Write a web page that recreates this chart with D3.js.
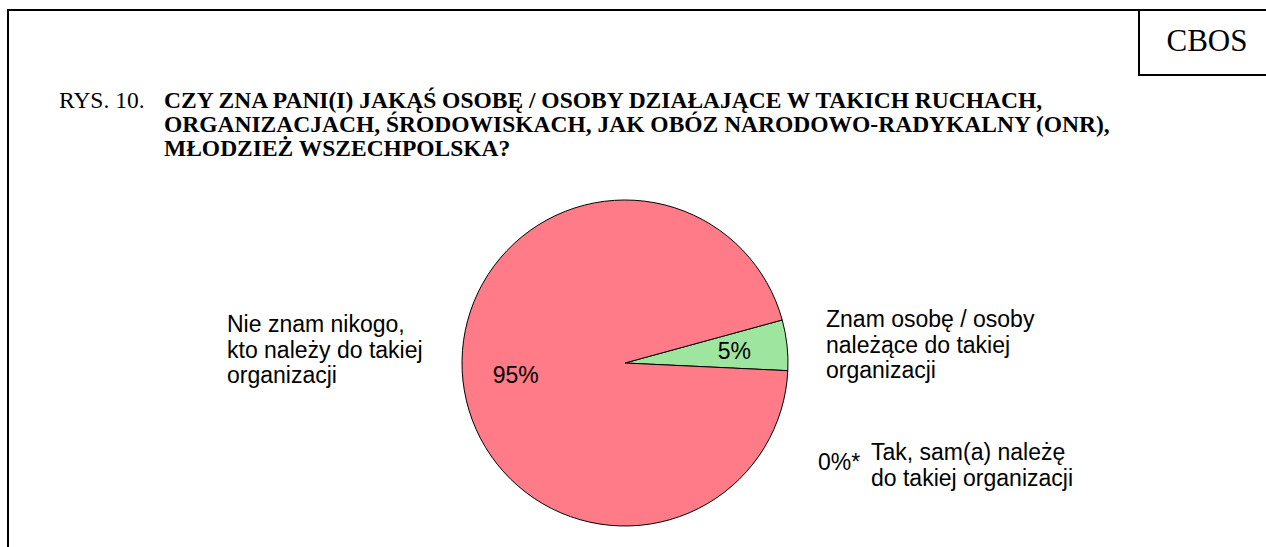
<!DOCTYPE html>
<html lang="pl">
<head>
  <meta charset="UTF-8">
  <title>CBOS Rys. 10</title>
  <script src="https://d3js.org/d3.v7.min.js"></script>
  <style>
    body { margin: 0; background: #fff; }
    .title { font-family: "Liberation Serif", "Times New Roman", serif; font-size: 23.5px; }
    .lbl { font-family: "Liberation Sans", Arial, sans-serif; font-size: 23px; fill: #000; }
  </style>
</head>
<body>
  <svg id="chart" width="1266" height="547"></svg>

  <script>
    // Answers (same order as the slices go round the pie)
    const categories = [
      "Znam osobę / osoby należące do takiej organizacji",
      "Tak, sam(a) należę do takiej organizacji",
      "Nie znam nikogo, kto należy do takiej organizacji"
    ];
    const values = [5, 0, 95];
    const valueLabels = ["5%", "0%*", "95%"];
    const colors = ["#9ee6a0", "#9ee6a0", "#ff7b88"];

    // Outside labels, broken into lines
    const labelLines = [
      ["Znam osobę / osoby", "należące do takiej", "organizacji"],
      ["Tak, sam(a) należę", "do takiej organizacji"],
      ["Nie znam nikogo,", "kto należy do takiej", "organizacji"]
    ];

    const titleNo = "RYS. 10.";
    const titleLines = [
      "CZY ZNA PANI(I) JAKĄŚ OSOBĘ / OSOBY DZIAŁAJĄCE W TAKICH RUCHACH,",
      "ORGANIZACJACH, ŚRODOWISKACH, JAK OBÓZ NARODOWO-RADYKALNY (ONR),",
      "MŁODZIEŻ WSZECHPOLSKA?"
    ];

    const svg = d3.select("#chart");

    // Frame and CBOS box
    svg.append("path")
      .attr("d", "M8,560 L8,10 L1280,10")
      .attr("fill", "none").attr("stroke", "#000").attr("stroke-width", 2);
    svg.append("rect")
      .attr("x", 1139).attr("y", 10).attr("width", 200).attr("height", 65)
      .attr("fill", "none").attr("stroke", "#000").attr("stroke-width", 2);
    svg.append("text")
      .attr("x", 1207).attr("y", 51).attr("text-anchor", "middle")
      .style("font-family", "Liberation Serif, serif").style("font-size", "31px")
      .text("CBOS");

    // Title
    svg.append("text").attr("class", "title")
      .attr("x", 59).attr("y", 108).text(titleNo);
    svg.append("g").selectAll("text")
      .data(titleLines).join("text")
      .attr("class", "title")
      .attr("font-weight", "bold")
      .attr("x", 164)
      .attr("y", (d, i) => 108 + i * 24)
      .text(d => d);

    // Pie
    const cx = 625, cy = 363, r = 163;
    const start = 74.7 * Math.PI / 180;
    const pie = d3.pie().sort(null).value(d => d)
      .startAngle(start).endAngle(start + 2 * Math.PI);
    const arcs = pie(values);
    const arc = d3.arc().innerRadius(0).outerRadius(r);
    const labelArc = d3.arc().innerRadius(110).outerRadius(110);

    const g = svg.append("g").attr("transform", `translate(${cx},${cy})`);
    g.selectAll("path")
      .data(arcs.filter(a => a.value > 0)).join("path")
      .attr("d", arc)
      .attr("fill", d => colors[d.index])
      .attr("stroke", "#000").attr("stroke-width", 1);

    // Percent labels inside slices
    g.selectAll("text.pct")
      .data(arcs.filter(a => a.value > 0)).join("text")
      .attr("class", "lbl pct")
      .attr("transform", d => `translate(${labelArc.centroid(d)})`)
      .attr("text-anchor", "middle")
      .attr("dy", "0.36em")
      .text(d => valueLabels[d.index]);

    // 0% label sits outside
    svg.append("text").attr("class", "lbl")
      .attr("x", 818).attr("y", 470).text(valueLabels[1]);

    // Category labels
    const outPos = [[826, 327], [871, 460], [227, 332]];
    labelLines.forEach((lines, i) => {
      const t = svg.append("text").attr("class", "lbl")
        .attr("x", outPos[i][0]).attr("y", outPos[i][1]);
      lines.forEach((ln, j) => {
        t.append("tspan").attr("x", outPos[i][0]).attr("dy", j === 0 ? 0 : 25.5).text(ln);
      });
    });
  </script>
</body>
</html>
